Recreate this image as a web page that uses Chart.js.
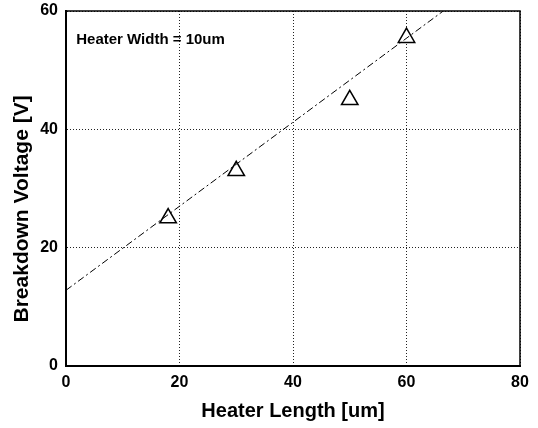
<!DOCTYPE html>
<html>
<head>
<meta charset="utf-8">
<script src="https://cdn.jsdelivr.net/npm/chart.js@4"></script>
<style>
  html, body { margin: 0; padding: 0; background: #fff; }
  #wrap { width: 538px; height: 428px; }
</style>
</head>
<body>
<div id="wrap"><canvas id="chBreakdown"></canvas></div>
<script>
// measured points
var heaterLength = [18, 30, 50, 60];
var breakdownVoltage = [25, 33, 45, 55.5];

// fitted line, read at the two ends
var fitLength = [0, 80];
var fitVoltage = [12.8, 69.6];

var xTicks = [0, 20, 40, 60, 80];
var yTicks = [0, 20, 40, 60];

var noteText = 'Heater Width = 10um';
var fontFamily = '"Liberation Sans", Arial, Helvetica, sans-serif';

function toPoints(xs, ys) {
  return xs.map(function (x, i) { return {x: x, y: ys[i]}; });
}

// frame on top/right + note text
var framePlugin = {
  id: 'frame',
  afterDatasetsDraw: function (chart) {
    var ctx = chart.ctx, a = chart.chartArea;
    ctx.save();
    ctx.strokeStyle = '#000';
    ctx.lineWidth = 1.5;
    ctx.beginPath();
    ctx.moveTo(a.left, a.top);
    ctx.lineTo(a.right, a.top);
    ctx.lineTo(a.right, a.bottom);
    ctx.stroke();
    ctx.font = 'bold 15px ' + fontFamily;
    ctx.fillStyle = '#000';
    ctx.textBaseline = 'alphabetic';
    ctx.fillText(noteText, chart.scales.x.getPixelForValue(1.8), chart.scales.y.getPixelForValue(54.5));
    ctx.restore();
  }
};

var ch = document.getElementById('chBreakdown');
new Chart(ch, {
  type: 'scatter',
  data: {
    datasets: [
      {
        label: 'fit',
        type: 'line',
        data: toPoints(fitLength, fitVoltage),
        borderColor: '#000',
        borderWidth: 1,
        borderDash: [7, 3, 2, 3],
        pointRadius: 0,
        fill: false
      },
      {
        label: 'measured',
        data: toPoints(heaterLength, breakdownVoltage),
        pointStyle: 'triangle',
        pointRadius: 9.5,
        pointBackgroundColor: '#fff',
        pointBorderColor: '#000',
        pointBorderWidth: 1.5
      }
    ]
  },
  options: {
    responsive: true,
    maintainAspectRatio: false,
    animation: false,
    layout: {padding: {top: 11, right: 18, left: 0, bottom: 0}},
    plugins: {legend: {display: false}, tooltip: {enabled: false}},
    scales: {
      x: {
        type: 'linear', min: 0, max: 80,
        afterFit: function (s) { s.height = 62; s.paddingLeft = 0; s.paddingRight = 0; },
        afterBuildTicks: function (s) { s.ticks = xTicks.map(function (v) { return {value: v}; }); },
        grid: {color: '#222', lineWidth: 1, drawTicks: false},
        border: {display: true, color: '#000', width: 2, dash: [1, 2]},
        ticks: {color: '#000', padding: 7, font: {family: fontFamily, size: 16, weight: 'bold'}},
        title: {display: true, text: 'Heater Length [um]', color: '#000', padding: {top: 4, bottom: 5},
                font: {family: fontFamily, size: 20, weight: 'bold'}}
      },
      y: {
        type: 'linear', min: 0, max: 60,
        afterFit: function (s) { s.width = 66; s.paddingTop = 0; s.paddingBottom = 0; },
        afterBuildTicks: function (s) { s.ticks = yTicks.map(function (v) { return {value: v}; }); },
        grid: {color: '#222', lineWidth: 1, drawTicks: false},
        border: {display: true, color: '#000', width: 2, dash: [1, 2]},
        ticks: {color: '#000', padding: 8, font: {family: fontFamily, size: 16, weight: 'bold'}},
        // trailing spaces push the title down the axis like in the original
        title: {display: true, text: 'Breakdown Voltage [V]       ', color: '#000', padding: {top: 10, bottom: 4},
                font: {family: fontFamily, size: 21, weight: 'bold'}}
      }
    }
  },
  plugins: [framePlugin]
});
</script>
</body>
</html>
